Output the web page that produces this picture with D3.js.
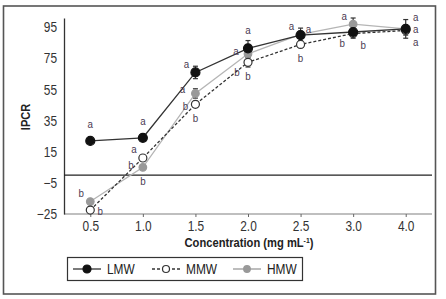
<!DOCTYPE html>
<html>
<head>
<meta charset="utf-8">
<script src="https://cdn.jsdelivr.net/npm/d3@7"></script>
<style>
  body { margin: 0; background: #fff; }
  text { font-family: "Liberation Sans", Arial, sans-serif; }
</style>
</head>
<body>
<div id="chart"></div>
<script>
// data
const concs = ["0.5", "1.0", "1.5", "2.0", "2.5", "3.0", "4.0"];
const yTicks = [-25, -5, 15, 35, 55, 75, 95];
const lmw = [22, 24, 66, 81.5, 90, 92, 94];
const mmw = [-22.5, 11, 45.5, 72.5, 84, 91, 93];
const hmw = [-17, 5, 52.5, 78, 90.5, 97, 94];
const lmwErr = [1, 1, 4, 5, 2, 3, 2];
const mmwErr = [1, 1, 2, 3, 2, 3, 3];
const hmwErr = [1, 1, 3, 2, 4, 4, 6];
const seriesNames = ["LMW", "MMW", "HMW"];
// [concentration, series, letter, placement]
const letters = [
    ["0.5", "LMW", "a", "t"], ["0.5", "HMW", "b", "tl"], ["0.5", "MMW", "b", "r"],
    ["1.0", "LMW", "a", "t"], ["1.0", "MMW", "a", "tl"], ["1.0", "HMW", "b", "l"], ["1.0", "HMW", "b", "b"],
    ["1.5", "LMW", "a", "tl"], ["1.5", "HMW", "a", "lt"], ["1.5", "MMW", "b", "lb"], ["1.5", "MMW", "b", "b"],
    ["2.0", "LMW", "a", "tt"], ["2.0", "HMW", "a", "l"], ["2.0", "MMW", "b", "bl"], ["2.0", "MMW", "b", "b"],
    ["2.5", "HMW", "a", "tl"], ["2.5", "LMW", "a", "tr"], ["2.5", "MMW", "b", "b"],
    ["3.0", "HMW", "a", "tl"], ["3.0", "MMW", "b", "bl"], ["3.0", "MMW", "b", "br"],
    ["4.0", "HMW", "a", "rt"], ["4.0", "LMW", "a", "r"], ["4.0", "MMW", "a", "rb"]
];

const width = 446;
const height = 299;
const margin = {t: 18, b: 85, l: 64, r: 14};

const svg = d3.select("#chart")
    .append("svg")
    .attr("width", width)
    .attr("height", height)
    .attr("viewBox", [0, 0, width, height]);

svg.append("rect")
    .attr("width", width)
    .attr("height", height)
    .attr("fill", "white");

//outer frame
svg.append("rect")
    .attr("x", 3.5)
    .attr("y", 6)
    .attr("width", 432)
    .attr("height", 288)
    .attr("fill", "none")
    .attr("stroke", "#555")
    .attr("stroke-width", 1.6);

const xScale = d3.scalePoint()
    .domain(concs)
    .range([margin.l, width - margin.r])
    .padding(0.5);

const yScale = d3.scaleLinear()
    .domain([-25, 101])
    .range([height - margin.b, margin.t]);

//x axis
const x_axis = d3.axisBottom(xScale)
    .tickSize(3)
    .tickPadding(4);
const gx = svg.append("g")
    .attr("transform", `translate(0, ${yScale(-25)})`)
    .call(x_axis);
gx.select(".domain").attr("stroke", "#aaa").attr("stroke-width", 1.3)
    .attr("d", `M${margin.l},0H${width - margin.r}`);
gx.selectAll(".tick line").attr("stroke", "#666");
gx.selectAll(".tick text")
    .attr("font-size", "14px")
    .attr("fill", "#333");

//y axis
const y_axis = d3.axisLeft(yScale)
    .tickValues(yTicks)
    .tickSize(0)
    .tickPadding(7);
const gy = svg.append("g")
    .attr("transform", `translate(${margin.l}, 0)`)
    .call(y_axis);
gy.select(".domain").attr("stroke", "#333").attr("stroke-width", 1.3);
gy.selectAll(".tick text")
    .attr("font-size", "14px")
    .attr("fill", "#333");

svg.append("text")
    .attr("transform", "rotate(-90)")
    .attr("x", -117)
    .attr("y", 30)
    .attr("text-anchor", "middle")
    .attr("font-size", "13px")
    .attr("font-weight", "bold")
    .attr("fill", "#222")
    .text("IPCR");

//zero line
svg.append("line")
    .attr("x1", margin.l)
    .attr("x2", width - margin.r)
    .attr("y1", yScale(0))
    .attr("y2", yScale(0))
    .attr("stroke", "#222")
    .attr("stroke-width", 1.3);

const styles = {
    LMW: {vals: lmw, err: lmwErr, line: "#333", dash: null, fill: "#111", stroke: "#111", r: 4.5},
    MMW: {vals: mmw, err: mmwErr, line: "#333", dash: "3,2", fill: "white", stroke: "#333", r: 4},
    HMW: {vals: hmw, err: hmwErr, line: "#b5b5b5", dash: null, fill: "#999", stroke: "#999", r: 3.8}
};

const makeLine = d3.line()
    .x((d, i) => xScale(concs[i]))
    .y(d => yScale(d));

//lines, error bars, markers
["HMW", "MMW", "LMW"].forEach(name => {
    const s = styles[name];
    svg.append("path")
        .attr("fill", "none")
        .attr("stroke", s.line)
        .attr("stroke-width", 1.3)
        .attr("stroke-dasharray", s.dash)
        .attr("d", makeLine(s.vals));
});

["HMW", "MMW", "LMW"].forEach(name => {
    const s = styles[name];
    s.vals.forEach((v, i) => {
        const x = xScale(concs[i]);
        const y1 = yScale(v - s.err[i]);
        const y2 = yScale(v + s.err[i]);
        svg.append("line")
            .attr("x1", x).attr("x2", x)
            .attr("y1", y1).attr("y2", y2)
            .attr("stroke", "#333").attr("stroke-width", 1.2);
        [y1, y2].forEach(y => {
            svg.append("line")
                .attr("x1", x - 2.5).attr("x2", x + 2.5)
                .attr("y1", y).attr("y2", y)
                .attr("stroke", "#333").attr("stroke-width", 1.2);
        });
    });
});

["HMW", "MMW", "LMW"].forEach(name => {
    const s = styles[name];
    svg.selectAll(null)
        .data(s.vals)
        .join("circle")
        .attr("cx", (d, i) => xScale(concs[i]))
        .attr("cy", d => yScale(d))
        .attr("r", s.r)
        .attr("fill", s.fill)
        .attr("stroke", s.stroke)
        .attr("stroke-width", 1.2);
});

//significance letters
const offsets = {
    t: [0, -16], tt: [0, -18], tl: [-9, -8], tr: [8, -6], l: [-12, -2],
    lt: [-13, -4], lb: [-10, 2],
    bl: [-11, 10], b: [0, 14], br: [10, 12], r: [10, 1], rt: [10, -11.5], rb: [10, 12]
};
letters.forEach(([c, name, txt, place]) => {
    const i = concs.indexOf(c);
    const o = offsets[place];
    svg.append("text")
        .attr("x", xScale(c) + o[0])
        .attr("y", yScale(styles[name].vals[i]) + o[1])
        .attr("dy", "0.3em")
        .attr("text-anchor", "middle")
        .attr("font-size", "11.5px")
        .attr("fill", "#4a3a52")
        .text(txt);
});

//legend
svg.append("rect")
    .attr("x", 67.5)
    .attr("y", 257.5)
    .attr("width", 235)
    .attr("height", 23)
    .attr("fill", "white")
    .attr("stroke", "#333")
    .attr("stroke-width", 1.2);

const legendX = [73, 152, 233];
seriesNames.forEach((name, k) => {
    const s = styles[name];
    const x0 = legendX[k];
    const y0 = 269;
    svg.append("line")
        .attr("x1", x0).attr("x2", x0 + 28)
        .attr("y1", y0).attr("y2", y0)
        .attr("stroke", name === "HMW" ? "#999" : "#333")
        .attr("stroke-width", 1.3)
        .attr("stroke-dasharray", s.dash);
    svg.append("circle")
        .attr("cx", x0 + 14).attr("cy", y0)
        .attr("r", s.r - 0.5)
        .attr("fill", s.fill)
        .attr("stroke", s.stroke)
        .attr("stroke-width", 1.2);
    svg.append("text")
        .attr("x", x0 + 34)
        .attr("y", y0)
        .attr("dy", "0.36em")
        .attr("font-size", "14px")
        .attr("fill", "#222")
        .text(name);
});

//narrow look of the original font
svg.selectAll("text").each(function () {
    const w = this.getComputedTextLength();
    d3.select(this)
        .attr("textLength", w * 0.85)
        .attr("lengthAdjust", "spacingAndGlyphs");
});

//x title with superscript, squeezed the same way
const title = svg.append("g")
    .attr("transform", "translate(249, 247) scale(0.86, 1)")
    .append("text")
    .attr("text-anchor", "middle")
    .attr("font-size", "13px")
    .attr("font-weight", "bold")
    .attr("fill", "#222");
title.append("tspan").text("Concentration (mg mL");
title.append("tspan").attr("dy", -4).attr("font-size", "8px").text("-1");
title.append("tspan").attr("dy", 4).text(")");
</script>
</body>
</html>
